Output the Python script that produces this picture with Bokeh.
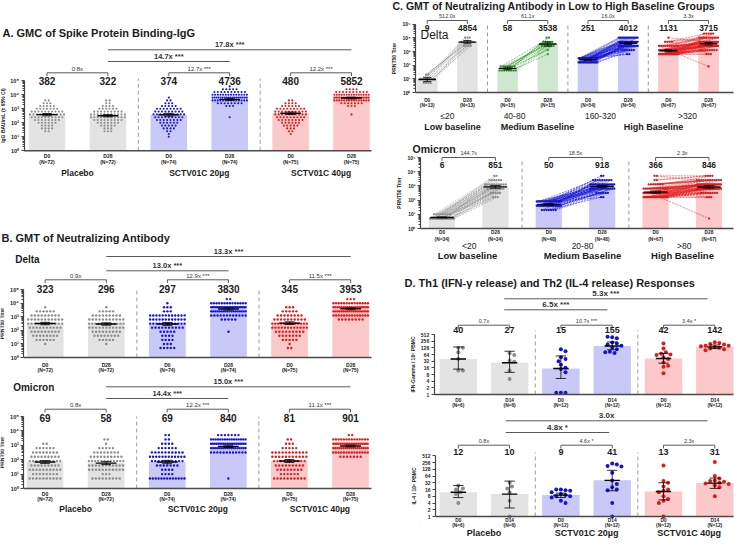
import math
from collections import defaultdict
from bokeh.plotting import figure
from bokeh.layouts import column, row
from bokeh.models import Range1d, FixedTicker
from bokeh.core.properties import value
from bokeh.embed import file_html
from bokeh.resources import INLINE

FONT = "Liberation Sans"
INK = "#1c1c1c"
RULE = "#5a5a5a"

# ---------------- shared category labels ----------------
GROUPS = ["Placebo", "SCTV01C 20µg", "SCTV01C 40µg"]
DAYS_D28 = ["D0", "D28", "D0", "D28", "D0", "D28"]
DAYS_D14 = ["D0", "D14", "D0", "D14", "D0", "D14"]
N_AB = ["(N=72)", "(N=72)", "(N=74)", "(N=74)", "(N=75)", "(N=75)"]
N_D = ["(N=6)", "(N=6)", "(N=12)", "(N=12)", "(N=12)", "(N=12)"]
DEC_TICKS = [1, 10, 100, 1000, 10000, 100000]
DEC_LABELS = ["10⁰", "10¹", "10²", "10³", "10⁴", "10⁵"]
DEC_MINOR = [m * 10 ** k for k in range(5) for m in range(2, 10)]
LOG2_TICKS = [1, 2, 4, 8, 16, 32, 64, 128, 256, 512]
LOG2_LABELS = ["1", "2", "4", "8", "16", "32", "64", "128", "256", "512"]

# ---------------- A: IgG GMC ----------------
A_gmc = [382, 322, 374, 4736, 480, 5852]
A_ci_lo = [318, 268, 296, 4020, 392, 5060]
A_ci_hi = [459, 387, 473, 5580, 588, 6770]
A_pair_fold = ["0.8x", "12.7x ***", "12.2x ***"]
A_vs_fold = ["14.7x ***", "17.8x ***"]
A_row_log10 = [1.0, 1.2, 1.4, 1.6, 1.8, 2.0, 2.2, 2.4, 2.6, 2.8, 3.0, 3.2, 3.4, 3.6, 3.8, 4.0, 4.2, 4.4, 4.6]
A_placebo_d0 = [0, 0, 2, 4, 4, 6, 8, 10, 11, 10, 7, 5, 3, 2, 0, 0, 0, 0, 0]
A_placebo_d28 = [0, 0, 3, 3, 5, 7, 9, 11, 11, 9, 6, 4, 2, 2, 0, 0, 0, 0, 0]
A_20ug_d0 = [1, 1, 2, 4, 5, 6, 8, 9, 10, 9, 8, 5, 3, 2, 1, 0, 0, 0, 0]
A_20ug_d28 = [0, 0, 0, 0, 0, 0, 0, 1, 0, 0, 0, 3, 8, 14, 18, 14, 10, 5, 1]
A_40ug_d0 = [0, 1, 2, 3, 5, 6, 8, 9, 10, 10, 9, 6, 4, 2, 0, 0, 0, 0, 0]
A_40ug_d28 = [0, 0, 0, 0, 0, 0, 0, 0, 1, 0, 0, 3, 7, 15, 20, 15, 10, 4, 0]

# ---------------- B: neutralizing GMT (counts per titer level) ----------------
TITERS = [5, 10, 20, 40, 80, 160, 320, 640, 1280, 2560, 5120, 10240, 20480]
BD_gmt = [323, 296, 297, 3830, 345, 3953]
BD_ci_lo = [262, 240, 228, 3180, 275, 3380]
BD_ci_hi = [398, 365, 387, 4610, 433, 4620]
BD_pair_fold = ["0.9x", "12.9x ***", "11.5x ***"]
BD_vs_fold = ["13.0x ***", "13.3x ***"]
BD_placebo_d0 = [0, 1, 6, 8, 9, 10, 11, 11, 9, 6, 1, 0, 0]
BD_placebo_d28 = [0, 1, 5, 8, 9, 11, 12, 11, 9, 5, 1, 0, 0]
BD_20ug_d0 = [5, 3, 4, 4, 5, 10, 12, 12, 12, 3, 3, 1, 0]
BD_20ug_d28 = [0, 0, 0, 0, 1, 0, 0, 5, 12, 18, 22, 14, 2]
BD_40ug_d0 = [2, 1, 5, 7, 9, 12, 13, 10, 8, 5, 3, 0, 0]
BD_40ug_d28 = [0, 0, 0, 0, 0, 0, 0, 8, 14, 18, 18, 14, 3]

BO_gmt = [69, 58, 69, 840, 81, 901]
BO_ci_lo = [55, 46, 53, 700, 64, 780]
BO_ci_hi = [87, 73, 90, 1010, 103, 1040]
BO_pair_fold = ["0.8x", "12.2x ***", "11.1x ***"]
BO_vs_fold = ["14.4x ***", "15.0x ***"]
BO_placebo_d0 = [10, 8, 10, 9, 10, 9, 8, 6, 2, 0, 0, 0, 0]
BO_placebo_d28 = [9, 3, 11, 11, 12, 10, 8, 5, 1, 2, 0, 0, 0]
BO_20ug_d0 = [13, 4, 4, 7, 10, 12, 10, 6, 4, 2, 2, 0, 0]
BO_20ug_d28 = [1, 0, 0, 0, 0, 0, 12, 18, 20, 16, 7, 0, 0]
BO_40ug_d0 = [10, 6, 8, 9, 10, 11, 11, 5, 3, 2, 0, 0, 0]
BO_40ug_d28 = [0, 0, 0, 0, 0, 7, 14, 18, 20, 14, 2, 0, 0]

# ---------------- C: baseline subgroups (paired subjects) ----------------
C_groups = ["Low baseline", "Medium Baseline", "High Baseline"]
C_delta_gmt = [9, 4854, 58, 3538, 251, 4012, 1131, 3715]
C_delta_ci_lo = [6.3, 3700, 47, 2500, 228, 3350, 960, 3020]
C_delta_ci_hi = [12.8, 6360, 72, 5000, 276, 4800, 1330, 4570]
C_delta_fold = ["512.0x", "61.1x", "16.0x", "3.3x"]
C_delta_range = ["≤20", "40-80", "160-320", ">320"]
C_delta_n = ["(N=13)", "(N=13)", "(N=15)", "(N=15)", "(N=54)", "(N=54)", "(N=67)", "(N=67)"]
C_delta_low_d0 = [5, 5, 10, 10, 10, 5, 20, 10, 10, 5, 20, 10, 10]
C_delta_low_d28 = [5120, 5120, 2560, 5120, 10240, 2560, 5120, 10240, 5120, 2560, 5120, 2560, 10240]
C_delta_med_d0 = [40, 80, 40, 80, 40, 40, 80, 40, 80, 40, 80, 40, 80, 40, 80]
C_delta_med_d28 = [2560, 5120, 5120, 2560, 1280, 5120, 2560, 10240, 5120, 640, 2560, 5120, 10240, 2560, 2560]
C_delta_high_d0 = [320, 160, 320, 320, 160, 320, 320, 160, 320, 320,
                   160, 320, 320, 160, 320, 320, 320, 160, 320, 320,
                   160, 320, 320, 160, 320, 320, 160, 320, 320, 320,
                   160, 320, 160, 320, 320, 160, 320, 320, 160, 320,
                   320, 160, 320, 320, 160, 320, 320, 160, 320, 320,
                   160, 320, 320, 160]
C_delta_high_d28 = [5120, 2560, 10240, 5120, 1280, 5120, 10240, 2560, 5120, 10240,
                    2560, 5120, 640, 10240, 5120, 2560, 5120, 10240, 1280, 5120,
                    10240, 2560, 5120, 2560, 10240, 5120, 1280, 2560, 10240, 5120,
                    2560, 10240, 5120, 1280, 2560, 5120, 10240, 2560, 5120, 640,
                    10240, 5120, 2560, 1280, 10240, 5120, 2560, 10240, 5120, 2560,
                    1280, 10240, 5120, 2560]
C_delta_top_d0 = [640, 1280, 640, 2560, 1280, 640, 640, 1280, 5120, 640,
                  1280, 640, 2560, 640, 1280, 640, 10240, 1280, 640, 2560,
                  640, 1280, 640, 640, 1280, 2560, 640, 1280, 640, 5120,
                  1280, 640, 640, 2560, 1280, 640, 1280, 640, 2560, 640,
                  1280, 640, 1280, 640, 5120, 640, 1280, 2560, 640, 1280,
                  640, 2560, 1280, 640, 640, 1280, 2560, 640, 1280, 5120,
                  640, 1280, 640, 2560, 1280, 640, 640]
C_delta_top_d28 = [2560, 5120, 1280, 80, 5120, 2560, 1280, 5120, 10240, 2560,
                   5120, 2560, 10240, 1280, 2560, 5120, 5120, 2560, 20480, 10240,
                   2560, 5120, 640, 2560, 5120, 10240, 1280, 5120, 2560, 20480,
                   5120, 2560, 10240, 5120, 2560, 1280, 5120, 640, 10240, 2560,
                   5120, 20480, 2560, 5120, 10240, 1280, 2560, 5120, 10240, 2560,
                   1280, 5120, 10240, 2560, 20480, 5120, 2560, 10240, 5120, 640,
                   2560, 10240, 1280, 5120, 20480, 2560, 5120]

C_omi_gmt = [6, 851, 50, 918, 366, 846]
C_omi_ci_lo = [5.6, 690, 44, 790, 305, 690]
C_omi_ci_hi = [6.6, 1050, 57, 1070, 440, 1040]
C_omi_fold = ["144.7x", "18.5x", "2.3x"]
C_omi_range = ["<20", "20-80", ">80"]
C_omi_n = ["(N=34)", "(N=34)", "(N=48)", "(N=48)", "(N=67)", "(N=67)"]
C_omi_low_d0 = [5, 5, 10, 5, 5, 5, 10, 5, 5, 5, 10, 5, 5, 5, 10, 5, 5, 5, 5, 10,
                5, 5, 10, 5, 5, 5, 10, 5, 5, 5, 10, 5, 5, 5]
C_omi_low_d28 = [1280, 640, 2560, 1280, 320, 640, 1280, 5120, 2560, 640,
                 1280, 160, 2560, 640, 1280, 320, 1280, 640, 2560, 1280,
                 320, 640, 1280, 5120, 2560, 160, 640, 1280, 320, 2560,
                 640, 1280, 320, 160]
C_omi_med_d0 = [40, 80, 40, 20, 80, 40, 80, 40, 40, 80, 20, 40, 80, 40, 80, 40, 20, 80, 40, 80,
                40, 40, 80, 20, 80, 40, 80, 40, 40, 80, 20, 40, 80, 40, 80, 40, 20, 80, 40, 80,
                40, 80, 20, 40, 80, 40, 80, 40]
C_omi_med_d28 = [1280, 640, 2560, 1280, 640, 1280, 2560, 640, 1280, 320,
                 2560, 1280, 640, 5120, 1280, 640, 320, 2560, 1280, 640,
                 1280, 2560, 640, 160, 1280, 640, 2560, 1280, 320, 640,
                 1280, 2560, 640, 1280, 320, 5120, 640, 1280, 2560, 160,
                 640, 1280, 320, 2560, 1280, 640, 320, 1280]
C_omi_high_d0 = [160, 320, 640, 160, 1280, 320, 160, 640, 320, 5120,
                 160, 320, 640, 160, 320, 1280, 160, 640, 320, 160,
                 2560, 320, 160, 640, 320, 160, 1280, 320, 640, 160,
                 320, 160, 640, 320, 160, 5120, 320, 640, 160, 1280,
                 320, 160, 640, 320, 160, 640, 1280, 160, 320, 160,
                 640, 320, 2560, 160, 1280, 320, 640, 160, 320, 160,
                 640, 1280, 320, 160, 640, 160, 320]
C_omi_high_d28 = [640, 1280, 1280, 640, 2560, 1280, 320, 1280, 640, 2560,
                  1280, 640, 2560, 320, 1280, 2560, 640, 1280, 5, 640,
                  5120, 1280, 640, 1280, 2560, 160, 2560, 1280, 1280, 640,
                  1280, 320, 2560, 1280, 640, 5120, 640, 1280, 320, 2560,
                  1280, 640, 1280, 160, 2560, 1280, 2560, 640, 320, 1280,
                  1280, 640, 5120, 320, 2560, 1280, 640, 160, 2560, 1280,
                  640, 5120, 640, 320, 1280, 640, 320]

# ---------------- D: Th1 / Th2 ----------------
D1_gmt = [40, 27, 15, 155, 42, 142]
D1_ci_lo = [14, 10, 5.3, 105, 26, 118]
D1_ci_hi = [140, 90, 55, 235, 72, 172]
D1_pair_fold = ["0.7x", "10.7x ***", "3.4x *"]
D1_vs_fold = ["6.5x ***", "5.3x ***"]
D1_placebo_d0 = [128, 128, 80, 40, 12, 12]
D1_placebo_d14 = [72, 60, 34, 30, 12, 5]
D1_20ug_d0 = [110, 90, 48, 40, 32, 22, 16, 14, 10, 1.2, 1.2, 1.2]
D1_20ug_d14 = [380, 350, 400, 220, 200, 180, 160, 130, 110, 85, 80, 75]
D1_40ug_d0 = [200, 120, 80, 70, 64, 60, 48, 40, 28, 20, 18, 9]
D1_40ug_d14 = [230, 210, 190, 180, 160, 160, 150, 140, 130, 120, 110, 100]

D2_gmt = [12, 10, 9, 41, 13, 31]
D2_ci_lo = [7, 2.4, 7, 14, 5.5, 18]
D2_ci_hi = [24, 38, 11, 115, 32, 52]
D2_pair_fold = ["0.8x", "4.6x *", "2.3x"]
D2_vs_fold = ["4.8x *", "3.0x"]
D2_placebo_d0 = [24, 18, 16, 12, 10, 4]
D2_placebo_d14 = [32, 22, 18, 12, 5, 1]
D2_20ug_d0 = [16, 15, 16, 14, 12, 10, 9, 8, 8, 7, 5, 4]
D2_20ug_d14 = [230, 210, 180, 170, 90, 40, 28, 20, 16, 15, 4, 1]
D2_40ug_d0 = [190, 38, 32, 22, 16, 14, 12, 8, 6, 5, 4, 1]
D2_40ug_d14 = [270, 64, 50, 40, 38, 36, 32, 30, 28, 24, 20, 8]

# ---------------- styling ----------------
GRAY_BAR, BLUE_BAR, RED_BAR, GREEN_BAR = "#e3e3e3", "#c9c9f7", "#fbc9c9", "#cfe7cf"
GRAY_DOT, BLUE_DOT, RED_DOT, GREEN_DOT = "#8c8c8c", "#1414d9", "#e3191c", "#229a22"
BAR6 = [GRAY_BAR, GRAY_BAR, BLUE_BAR, BLUE_BAR, RED_BAR, RED_BAR]
DOT6 = [GRAY_DOT, GRAY_DOT, BLUE_DOT, BLUE_DOT, RED_DOT, RED_DOT]
POS6 = [0, 1, 2, 3, 4, 5]


class Panel:
    """One figure; screen coordinates are those of the 750x554 page."""

    def __init__(self, left, top, w, h, pos0, unit, sy_a, v_a, sy_b, v_b):
        self.pos0, self.unit = pos0, unit
        self.sya, self.la = sy_a, math.log10(v_a)
        self.ppd = (sy_a - sy_b) / (math.log10(v_b) - math.log10(v_a))
        self.p = figure(width=w, height=h,
                        x_range=Range1d(self.X(left), self.X(left + w)),
                        y_range=Range1d(self.Y(top + h), self.Y(top)),
                        y_axis_type="log", x_axis_location=None, y_axis_location="left",
                        toolbar_location=None, output_backend="svg", min_border=0)
        p = self.p
        p.outline_line_color = None
        p.grid.visible = False
        p.background_fill_color = "white"
        p.border_fill_color = "white"

    def X(self, sx):
        return (sx - self.pos0) / self.unit

    def Y(self, sy):
        return 10 ** (self.la + (self.sya - sy) / self.ppd)

    def SY(self, v):
        return self.sya - (math.log10(v) - self.la) * self.ppd

    def text(self, xs, sys, texts, size, bold=False, align="center", color=INK):
        self.p.text(x=list(xs), y=[self.Y(s) for s in sys], text=list(texts),
                    text_font=value(FONT), text_font_size=value("%.1fpx" % size),
                    text_font_style="bold" if bold else "normal",
                    text_align=align, text_baseline="middle", text_color=color)

    def rule(self, x0s, sy0s, x1s, sy1s, color=RULE, width=1.0):
        self.p.segment(x0=list(x0s), y0=[self.Y(s) for s in sy0s],
                       x1=list(x1s), y1=[self.Y(s) for s in sy1s],
                       line_color=color, line_width=width)

    def compare(self, x0, x1, sy, label, size, bold, drop):
        self.rule([x0], [sy], [x1], [sy])
        if drop:
            self.rule([x0, x1], [sy, sy], [x0, x1], [sy + drop, sy + drop])
        self.text([(x0 + x1) / 2], [sy - (5 if bold else 4.2)], [label], size, bold, color="#333333")

    def bars(self, xs, tops, width, fills):
        self.p.vbar(x=list(xs), width=width, bottom=1, top=list(tops),
                    fill_color=list(fills), line_color=None)

    def seps(self, xs, sy_top):
        self.p.segment(x0=xs, y0=[1] * len(xs), x1=xs, y1=[self.Y(sy_top)] * len(xs),
                       line_color="#9c9c9c", line_width=1, line_dash="4 3")

    def baseline(self, axis_sx, right_sx):
        self.p.segment(x0=[self.X(axis_sx)], y0=[1], x1=[self.X(right_sx)], y1=[1],
                       line_color="#4a4a4a", line_width=1.4)

    def gmt_marks(self, xs, g, lo, hi, hw, cap):
        p = self.p
        xs = list(xs)
        p.segment(x0=[x - cap for x in xs], y0=lo, x1=[x + cap for x in xs], y1=lo, line_color="black", line_width=0.8)
        p.segment(x0=[x - cap for x in xs], y0=hi, x1=[x + cap for x in xs], y1=hi, line_color="black", line_width=0.8)
        p.segment(x0=xs, y0=lo, x1=xs, y1=hi, line_color="black", line_width=0.8)
        p.segment(x0=[x - hw for x in xs], y0=g, x1=[x + hw for x in xs], y1=g, line_color="black", line_width=1.4)

    def yaxis(self, axis_sx, ticks, labels, minor, title, lab_size=5.5):
        ax = self.p.yaxis[0]
        ax.fixed_location = self.X(axis_sx)
        ax.bounds = (ticks[0], ticks[-1])
        ax.ticker = FixedTicker(ticks=ticks, minor_ticks=minor)
        ax.major_label_overrides = {t: l for t, l in zip(ticks, labels)}
        ax.major_label_text_font = FONT
        ax.major_label_text_font_size = "%.1fpx" % lab_size
        ax.major_label_text_font_style = "bold"
        ax.major_label_text_color = INK
        ax.major_label_standoff = 2
        ax.axis_label = title
        ax.axis_label_text_font = FONT
        ax.axis_label_text_font_size = "5px"
        ax.axis_label_text_font_style = "bold"
        ax.axis_label_text_color = INK
        ax.axis_label_standoff = 2
        ax.axis_line_color = "#444444"
        ax.axis_line_width = 1.2
        ax.major_tick_line_color = "#444444"
        ax.major_tick_out = 3
        ax.major_tick_in = 0
        ax.minor_tick_line_color = "#444444"
        ax.minor_tick_out = 2
        ax.minor_tick_in = 0


def rows_layout(levels, counts, center, step, maxhw):
    xs, ys = [], []
    for lv, n in zip(levels, counts):
        if n == 0:
            continue
        st = step if n == 1 else min(step, 2 * maxhw / (n - 1))
        for i in range(n):
            xs.append(center + (i - (n - 1) / 2) * st)
            ys.append(lv)
    return xs, ys


def subject_offsets(vals, step, maxhw):
    groups = defaultdict(list)
    for i, v in enumerate(vals):
        groups[v].append(i)
    off = [0.0] * len(vals)
    for v, idxs in groups.items():
        n = len(idxs)
        st = step if n == 1 else min(step, 2 * maxhw / (n - 1))
        for j, i in enumerate(idxs):
            off[i] = (j - (n - 1) / 2) * st
    return off


def swarm(P, center, vals, dot_px, maxhw_px):
    placed, xs = [], []
    for v in vals:
        sy = P.SY(v)
        cands = [0.0]
        k = 1
        while k * dot_px * 0.55 <= maxhw_px:
            cands += [k * dot_px * 0.55, -k * dot_px * 0.55]
            k += 1
        best = cands[-1]
        for c in cands:
            if all((c - px) ** 2 + (sy - py) ** 2 >= dot_px ** 2 for px, py in placed):
                best = c
                break
        placed.append((best, sy))
        xs.append(center + best / P.unit)
    return xs


def six_bar_panel(P, axis_sx, right_sx, gmt, lo, hi, levels, count_lists, step_px,
                  pair_fold, vs_fold, ylab, sy_long, sy_short, sy_pair, sy_val, sy_day,
                  sy_n, sy_sep_top, dot_size, bar_w=0.6):
    P.bars(POS6, gmt, bar_w, BAR6)
    P.seps([1.5, 3.5], sy_sep_top)
    for i, counts in enumerate(count_lists):
        xs, ys = rows_layout(levels, counts, POS6[i], step_px / P.unit, bar_w * 0.47)
        P.p.scatter(x=xs, y=ys, size=dot_size, fill_color=DOT6[i], line_color=None)
    P.gmt_marks(POS6, gmt, lo, hi, 0.17, 0.08)
    P.baseline(axis_sx, right_sx)
    P.yaxis(axis_sx, DEC_TICKS, DEC_LABELS, DEC_MINOR, ylab)
    P.compare(1, 5, sy_long, vs_fold[1], 7.5, True, 0)
    P.compare(1, 3, sy_short, vs_fold[0], 7.5, True, 0)
    for k in range(3):
        P.compare(2 * k, 2 * k + 1, sy_pair, pair_fold[k], 6, False, 3.2)
    P.text(POS6, [sy_val] * 6, [str(v) for v in gmt], 10, True)
    P.text(POS6, [sy_day] * 6, DAYS_D28, 5, True)
    P.text(POS6, [sy_n] * 6, N_AB, 5, True)


# ======================= Panel A =======================
PA = Panel(8, 8, 372, 187, 54.5, 60.9, 158.3, 1, 88.3, 1e5)
six_bar_panel(PA, 31.5, 379, A_gmc, A_ci_lo, A_ci_hi, [10 ** l for l in A_row_log10],
              [A_placebo_d0, A_placebo_d28, A_20ug_d0, A_20ug_d28, A_40ug_d0, A_40ug_d28], 3.4,
              A_pair_fold, A_vs_fold, "IgG BAU/mL (± 95% CI)",
              57.3, 69, 80.3, 88.3, 163.5, 169, 86, 2.1)
PA.text([PA.X(10)], [40], ["A. GMC of Spike Protein Binding-IgG"], 11, True, "left")
PA.text([0.5, 2.5, 4.5], [180.5] * 3, GROUPS, 8.5, True)

# ======================= Panel B (Delta) =======================
PB1 = Panel(8, 195, 372, 190, 52.7, 61.1, 365, 1, 297.3, 1e5)
six_bar_panel(PB1, 31.3, 379, BD_gmt, BD_ci_lo, BD_ci_hi, TITERS,
              [BD_placebo_d0, BD_placebo_d28, BD_20ug_d0, BD_20ug_d28, BD_40ug_d0, BD_40ug_d28], 3.4,
              BD_pair_fold, BD_vs_fold, "PRNT50 Titer",
              264, 278.3, 287.3, 296, 372.3, 377.8, 295, 2.4)
PB1.text([PB1.X(9)], [245], ["B. GMT of Neutralizing Antibody"], 11, True, "left")
PB1.text([PB1.X(22.7)], [267.3], ["Delta"], 10, True, "left")

# ======================= Panel B (Omicron) =======================
PB2 = Panel(8, 385, 372, 161, 52.5, 61.1, 496, 1, 424, 1e5)
six_bar_panel(PB2, 31.3, 379, BO_gmt, BO_ci_lo, BO_ci_hi, TITERS,
              [BO_placebo_d0, BO_placebo_d28, BO_20ug_d0, BO_20ug_d28, BO_40ug_d0, BO_40ug_d28], 3.4,
              BO_pair_fold, BO_vs_fold, "PRNT50 Titer",
              394.3, 406, 416.7, 425, 501, 506.7, 424, 2.4)
PB2.text([PB2.X(20.7)], [395], ["Omicron"], 10, True, "left")
PB2.text([0.5, 2.5, 4.5], [516.7] * 3, GROUPS, 8.5, True)


# ======================= Panel C =======================
def paired_panel(P, axis_sx, right_sx, gmt, lo, hi, pairs, fills, cols, folds, n_labels,
                 bar_w, sy_fold, sy_val, sy_day, sy_n, sy_sep_top):
    npos = len(gmt)
    pos = list(range(npos))
    P.bars(pos, gmt, bar_w, fills)
    P.seps([k + 0.5 for k in range(1, npos - 1, 2)], sy_sep_top)
    step = 2.3 / P.unit
    for k, (d0, d28) in enumerate(pairs):
        assert len(d0) == len(d28)
        o0 = subject_offsets(d0, step, bar_w * 0.46)
        o1 = subject_offsets(d28, step, bar_w * 0.46)
        x0 = [2 * k + o for o in o0]
        x1 = [2 * k + 1 + o for o in o1]
        P.p.segment(x0=x0, y0=d0, x1=x1, y1=d28, line_color=cols[k], line_width=0.6,
                    line_dash="2 1", line_alpha=0.85)
        P.p.scatter(x=x0 + x1, y=list(d0) + list(d28), size=2.3, fill_color=cols[k], line_color=None)
    P.gmt_marks(pos, gmt, lo, hi, 0.22, 0.1)
    P.baseline(axis_sx, right_sx)
    P.yaxis(axis_sx, DEC_TICKS, DEC_LABELS, DEC_MINOR, "PRNT50 Titer", 5)
    for k, f in enumerate(folds):
        P.compare(2 * k, 2 * k + 1, sy_fold, f, 5.5, False, 3.3)
    P.text(pos, [sy_val] * npos, [str(v) for v in gmt], 8.5, True)
    P.text(pos, [sy_day] * npos, ["D0", "D28"] * (npos // 2), 4.8, True)
    P.text(pos, [sy_n] * npos, n_labels, 4.8, True)


PC1 = Panel(380, 8, 362, 132, 434.7, 40.2, 100, 1, 31.7, 1e5)
paired_panel(PC1, 423, 741, C_delta_gmt, C_delta_ci_lo, C_delta_ci_hi,
             [(C_delta_low_d0, C_delta_low_d28), (C_delta_med_d0, C_delta_med_d28),
              (C_delta_high_d0, C_delta_high_d28), (C_delta_top_d0, C_delta_top_d28)],
             [GRAY_BAR, GRAY_BAR, GREEN_BAR, GREEN_BAR, BLUE_BAR, BLUE_BAR, RED_BAR, RED_BAR],
             [GRAY_DOT, GREEN_DOT, BLUE_DOT, RED_DOT], C_delta_fold, C_delta_n,
             0.51, 28, 35.5, 108, 113.3, 30)
PC1.text([PC1.X(400)], [13], ["C. GMT of Neutralizing Antibody in Low to High Baseline Groups"], 10.5, True, "left")
PC1.text([PC1.X(428)], [42], ["Delta"], 12, False, "left")
PC1.text([PC1.X(s) for s in (455, 522, 608, 695)], [123] * 4, C_delta_range, 8.5)
PC1.text([PC1.X(s) for s in (460, 545, 661)], [134] * 3, C_groups, 9, True)

PC2 = Panel(380, 140, 362, 132, 449.5, 53.4, 236, 1, 165, 1e5)
paired_panel(PC2, 428, 741, C_omi_gmt, C_omi_ci_lo, C_omi_ci_hi,
             [(C_omi_low_d0, C_omi_low_d28), (C_omi_med_d0, C_omi_med_d28),
              (C_omi_high_d0, C_omi_high_d28)],
             [GRAY_BAR, GRAY_BAR, BLUE_BAR, BLUE_BAR, RED_BAR, RED_BAR],
             [GRAY_DOT, BLUE_DOT, RED_DOT], C_omi_fold, C_omi_n,
             0.49, 165, 172.3, 240, 246.5, 168)
PC2.text([PC2.X(420)], [156.7], ["Omicron"], 10.5, True, "left")
PC2.text([PC2.X(s) for s in (476.7, 590, 691.7)], [253.3] * 3, C_omi_range, 8.5)
PC2.text([PC2.X(s) for s in (475, 590, 690)], [263.3] * 3, C_groups, 9.5, True)


# ======================= Panel D =======================
def th_panel(P, axis_sx, gmt, lo, hi, point_lists, pair_fold, vs_fold, ylab,
             sy_long, sy_short, x_long_end, x_short_end, x_start, sy_pair, sy_val, sy_day, sy_n, sy_sep_top):
    P.bars(POS6, gmt, 0.73, BAR6)
    P.seps([1.5, 3.5], sy_sep_top)
    for i, vals in enumerate(point_lists):
        xs = swarm(P, POS6[i], vals, 4.2, 16)
        P.p.scatter(x=xs, y=vals, size=4, fill_color=DOT6[i], line_color=None)
    P.gmt_marks(POS6, gmt, lo, hi, 0.15, 0.1)
    P.baseline(axis_sx, 741)
    P.yaxis(axis_sx, LOG2_TICKS, LOG2_LABELS, [], ylab, 5)
    P.compare(P.X(x_start), P.X(x_long_end), sy_long, vs_fold[1], 8, True, 0)
    P.compare(P.X(x_start), P.X(x_short_end), sy_short, vs_fold[0], 8, True, 0)
    for k in range(3):
        P.compare(2 * k, 2 * k + 1, sy_pair, pair_fold[k], 5.5, False, 3.3)
    P.text(POS6, [sy_val] * 6, [str(v) for v in gmt], 9, True)
    P.text(POS6, [sy_day] * 6, DAYS_D14, 4.8, True)
    P.text(POS6, [sy_n] * 6, N_D, 4.8, True)


PD1 = Panel(380, 272, 362, 144, 465.8, 51.3, 402, 1, 342, 512)
th_panel(PD1, 441.7, D1_gmt, D1_ci_lo, D1_ci_hi,
         [D1_placebo_d0, D1_placebo_d14, D1_20ug_d0, D1_20ug_d14, D1_40ug_d0, D1_40ug_d14],
         D1_pair_fold, D1_vs_fold, "IFN-Gamma / 10⁶ PBMC",
         306.3, 317.3, 715, 615, 511.7, 332.7, 337, 408.3, 413.3, 338)
PD1.text([PD1.X(412)], [290], ["D. Th1 (IFN-γ release) and Th2 (IL-4 release) Responses"], 11, True, "left")

PD2 = Panel(380, 416, 362, 130, 465.8, 51.3, 524, 1, 463.3, 512)
th_panel(PD2, 443, D2_gmt, D2_ci_lo, D2_ci_hi,
         [D2_placebo_d0, D2_placebo_d14, D2_20ug_d0, D2_20ug_d14, D2_40ug_d0, D2_40ug_d14],
         D2_pair_fold, D2_vs_fold, "IL-4 / 10⁶ PBMC",
         428.3, 440, 715, 616.7, 513.3, 452.7, 459.3, 528.3, 533.3, 460)
PD2.text([0.5, 2.5, 4.5], [540.5] * 3, GROUPS, 9, True)

page = row(column(PA.p, PB1.p, PB2.p), column(PC1.p, PC2.p, PD1.p, PD2.p))
open("out.html", "w").write(file_html(page, INLINE))
